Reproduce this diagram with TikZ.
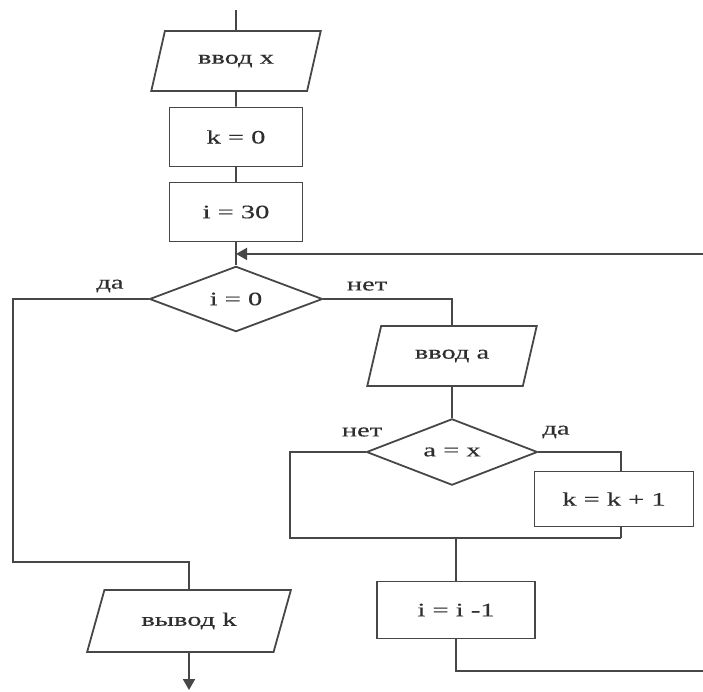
\documentclass[tikz,border=0pt]{standalone}
\usepackage{fontspec}
\setmainfont{Liberation Serif}[FakeStretch=1.5, FakeBold=0.4]
\usetikzlibrary{positioning, shapes.geometric, arrows.meta, calc}

\begin{document}
\begin{tikzpicture}[
    x=1pt, y=-1pt,
    font=\fontsize{19}{22}\selectfont,
    line width=1.8pt,
    proc/.style={draw=black!72, rectangle, minimum width=133pt, minimum height=59pt, inner sep=0pt, text=black!82},
    io/.style={draw=black!72, trapezium, trapezium left angle=60, trapezium right angle=120, trapezium stretches=true, minimum width=170pt, minimum height=60pt, inner sep=0pt, text=black!82},
    cond/.style={draw=black!72, diamond, minimum width=173pt, minimum height=65pt, inner sep=0pt, text=black!82},
    line/.style={draw=black!72},
    arrow/.style={line, -{Triangle[length=11pt, width=12pt]}},
    label/.style={text=black!82, inner sep=1pt}
]
\useasboundingbox (0,0) rectangle (703,691);

% main column
\coordinate (start) at (236,10);
\node[io] (inx) at (236,61) {ввод x};
\node[proc] (k0) at (236,137) {k = 0};
\node[proc] (i30) at (236,212) {i = 30};
\node[cond] (c1) at (236,299) {i = 0};
\coordinate (entry) at ($(i30.south)!0.5!(c1.north)$);

\draw[line] (start) -- (inx);
\draw[line] (inx) -- (k0);
\draw[line] (k0) -- (i30);
\draw[line] (i30) -- (c1);

% branch "no": loop body
\node[io] (ina) at (452,356) {ввод a};
\node[cond, minimum width=171pt] (c2) at (452,452) {a = x};
\node[proc, minimum width=159pt, minimum height=55pt] (kk) at (614,499) {k = k + 1};
\node[proc, minimum width=158pt, minimum height=57pt] (ii) at (456,610) {i = i -1};

\node[label] (no1) at (367,286) {нет};
\node[label] (no2) at (362,432) {нет};
\node[label] (yes2) at (556,432) {да};

\draw[line] (c1.east) -| (ina.north);
\draw[line] (ina) -- (c2);

\coordinate (mL) at (290,538);
\coordinate (mR) at (621,538);
\draw[line] (c2.west) -| (mL) -- (mR);
\draw[line] (c2.east) -| (kk.north -| mR);
\draw[line] (kk.south -| mR) -- (mR);
\draw[line] (ii.north |- mL) -- (ii);

\coordinate (loopR) at (705,671);
\draw[arrow] (ii.south) |- (loopR) |- (entry);

% branch "yes": output
\node[io, minimum width=204pt, minimum height=62pt] (outk) at (189,621) {вывод k};
\node[label] (yes1) at (110,286) {да};
\coordinate (yesL) at (13,562);
\coordinate (stop) at (189,690);
\draw[line] (c1.west) -| (yesL) -| (outk.north);
\draw[arrow] (outk) -- (stop);

\end{tikzpicture}
\end{document}
